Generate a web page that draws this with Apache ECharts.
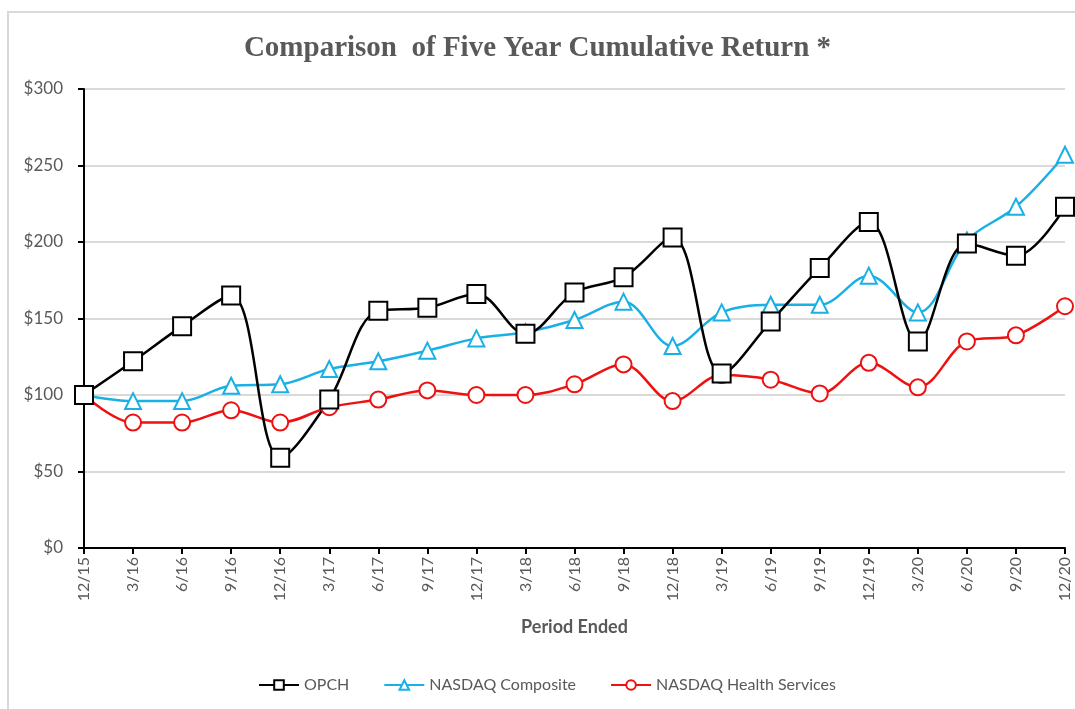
<!DOCTYPE html>
<html><head><meta charset="utf-8">
<script src="https://cdn.jsdelivr.net/npm/echarts@6/dist/echarts.min.js"></script>
<style>html,body{margin:0;padding:0;background:#fff}#c{width:1075px;height:709px}</style>
</head><body><div id="c"></div>
<script>
const categories = ['12/15','3/16','6/16','9/16','12/16','3/17','6/17','9/17','12/17','3/18','6/18','9/18','12/18','3/19','6/19','9/19','12/19','3/20','6/20','9/20','12/20'];
const opch = [100,122,145,165,59,97,155,157,166,140,167,177,203,114,148,183,213,135,199,191,223];
const nasdaqComposite = [100,96,96,106,107,117,122,129,137,141,149,161,132,154,159,159,178,154,201,223,257];
const nasdaqHealth = [100,82,82,90,82,92,97,103,100,100,107,120,96,113,110,101,121,105,135,139,158];

const chart = echarts.init(document.getElementById('c'));
const lab = {fontFamily:'Lato, "Open Sans", sans-serif', color:'#595959'};
function ser(name, data, color, symbol, size){
  return {name, type:'line', data, smooth:0.35, symbol, symbolSize:size,
    lineStyle:{color, width:2.5}, itemStyle:{color:'#fff', borderColor:color, borderWidth:2},
    emphasis:{disabled:true}};
}
chart.setOption({
  animation:false,
  graphic:[{type:'rect', shape:{x:8,y:12,width:1080,height:710}, style:{fill:'none', stroke:'#d9d9d9', lineWidth:2}, silent:true, z:-1}],
  title:{text:'Comparison  of Five Year Cumulative Return *', left:'center', top:29,
    textStyle:{fontFamily:'"Liberation Serif", "Times New Roman", serif', fontWeight:'bold', fontSize:29, color:'#595959'}},
  grid:{left:84, right:10, top:89, bottom:161, containLabel:false},
  legend:{top:672, left:253, itemGap:34, itemWidth:40, itemHeight:12,
    textStyle:Object.assign({fontSize:16},lab),
    data:[{name:'OPCH'},{name:'NASDAQ Composite'},{name:'NASDAQ Health Services'}]},
  xAxis:{type:'category', data:categories, boundaryGap:false,
    name:'Period Ended', nameLocation:'middle', nameGap:70,
    nameTextStyle:Object.assign({fontSize:18, fontWeight:'bold'},lab),
    axisLine:{lineStyle:{color:'#000', width:2}},
    axisTick:{show:true, alignWithLabel:true, length:6, lineStyle:{color:'#000', width:2}},
    axisLabel:Object.assign({rotate:90, fontSize:16, margin:9, interval:0},lab)},
  yAxis:{type:'value', min:0, max:300, interval:50,
    axisLine:{show:true, lineStyle:{color:'#000', width:2}},
    axisTick:{show:true, length:6, lineStyle:{color:'#000', width:2}},
    splitLine:{lineStyle:{color:'#d9d9d9', width:2}},
    axisLabel:Object.assign({fontSize:17, margin:21, formatter:v=>'$'+v},lab)},
  series:[
    ser('NASDAQ Health Services', nasdaqHealth, '#ee1111', 'circle', 16),
    ser('NASDAQ Composite', nasdaqComposite, '#1ab0e6', 'triangle', 16),
    ser('OPCH', opch, '#000000', 'rect', 18)
  ]
});
</script></body></html>
